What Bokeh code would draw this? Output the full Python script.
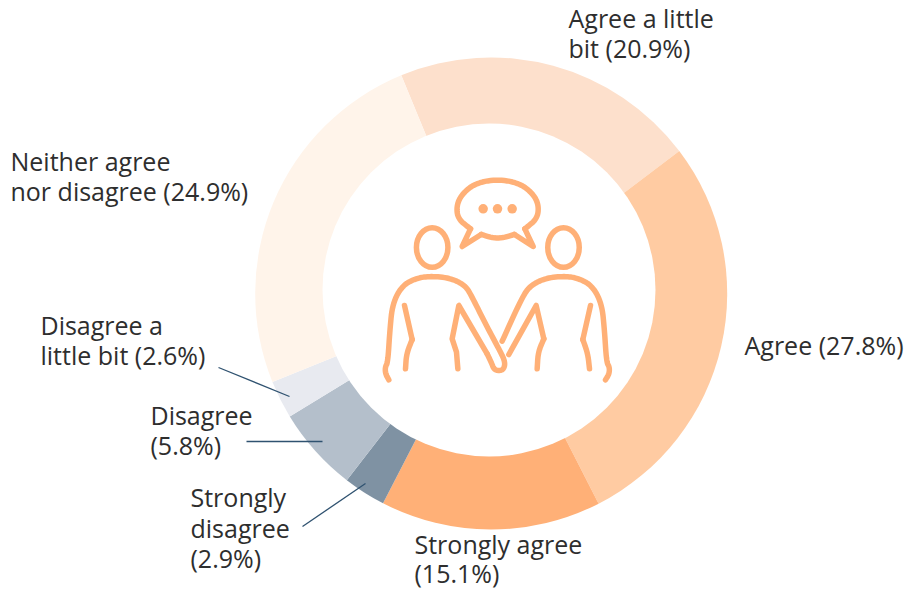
from bokeh.plotting import figure
from bokeh.embed import file_html
from bokeh.resources import INLINE
from bokeh.core.properties import value
import math

categories = ["Agree a little bit", "Agree", "Strongly agree", "Strongly disagree",
              "Disagree", "Disagree a little bit", "Neither agree nor disagree"]
shares = [20.9, 27.8, 15.1, 2.9, 5.8, 2.6, 24.9]
colors = ["#FDE0CC", "#FFCBA2", "#FFB077", "#7F92A3", "#B4BFCB", "#E8EAF0", "#FFF4EA"]

label_lines = ["Agree a little", "bit (20.9%)", "Agree (27.8%)", "Strongly agree", "(15.1%)",
               "Strongly", "disagree", "(2.9%)", "Disagree", "(5.8%)", "Disagree a",
               "little bit (2.6%)", "Neither agree", "nor disagree (24.9%)"]
label_x = [568, 568, 744, 414, 414, 190, 190, 190, 150, 150, 40, 40, 10, 10]
label_mid = [17, 47, 344, 543, 572, 496, 527, 557, 414, 444, 324, 354, 160, 190]

leaders = [((218, 367), (289, 396)), ((246, 441), (322, 441)), ((302, 526), (365, 483))]

CX, CY, R_OUT, START = 490.7, 293, 236, -22.4
HOLE_X, HOLE_Y, R_HOLE = 488.5, 289.5, 166.5
W, H = 912, 590
TEXT = "#2E2E2E"; LEAD = "#2F5270"; ICON = "#FFB077"; FONT = "Open Sans"; SIZE = "25px"

def Y(y):
    return 590 - y

p = figure(width=W, height=H, x_range=(0, W), y_range=(0, H), output_backend="svg",
           toolbar_location=None, min_border=0, outline_line_color=None)
p.axis.visible = False
p.grid.visible = False
p.background_fill_color = "#FFFFFF"

acc = 0.0
starts, ends = [], []
for s in shares:
    a0 = 90 - (START + acc * 3.6)
    acc += s
    a1 = 90 - (START + acc * 3.6)
    starts.append(math.radians(a1))
    ends.append(math.radians(a0))
p.wedge(x=[CX] * 7, y=[Y(CY)] * 7, radius=R_OUT,
        start_angle=starts, end_angle=ends, fill_color=colors, line_color=None)
p.circle(x=[HOLE_X], y=[Y(HOLE_Y)], radius=R_HOLE, fill_color="#FFFFFF", line_color=None)

p.segment(x0=[a[0] for a, b in leaders], y0=[Y(a[1]) for a, b in leaders],
          x1=[b[0] for a, b in leaders], y1=[Y(b[1]) for a, b in leaders],
          line_color=LEAD, line_width=1.3)

p.text(x=label_x, y=[Y(b) for b in label_mid], text=label_lines, text_font=value(FONT),
       text_font_size=value(SIZE), text_color=TEXT, text_baseline="middle", text_align="left")

def chaikin(pts, n=3):
    for _ in range(n):
        out = [pts[0]]
        for a, b in zip(pts, pts[1:]):
            out.append((0.75 * a[0] + 0.25 * b[0], 0.75 * a[1] + 0.25 * b[1]))
            out.append((0.25 * a[0] + 0.75 * b[0], 0.25 * a[1] + 0.75 * b[1]))
        out.append(pts[-1])
        pts = out
    return pts

smooth = [
    [(300,175),(262,145),(258,105),(275,70),(315,38),(381,26),(447,38),(488,70),(505,105),(500,145),(463,175)],
    [(432,192),(381,206),(332,192)],
    [(55,628),(45,610),(44,590),(52,575),(58,480),(66,400),(95,345),(140,322),(185,317),(240,323),(285,345),(305,380),(345,460),(385,535),(405,575),(398,600),(372,600),(362,575),(350,550)],
    [(705,628),(716,610),(717,590),(708,575),(702,480),(694,400),(665,345),(620,322),(579,317),(525,323),(480,345),(455,380),(395,512)],
    [(520,505),(503,545),(500,595)],
    [(125,507),(108,550),(105,595)],
    [(637,507),(652,550),(657,595)],
]
straight = [
    [(463,175),(488,228),(432,192)],
    [(332,192),(275,228),(300,175)],
    [(350,550),(265,405),(245,505),(258,545),(262,595)],
    [(415,552),(497,405),(520,505)],
    [(102,405),(125,507)],
    [(660,405),(637,507)],
]
strokes = [chaikin(s) for s in smooth] + straight
xs = [[370 + q[0] / 3 for q in s] for s in strokes]
ys = [[Y(170 + q[1] / 3) for q in s] for s in strokes]
p.multi_line(xs, ys, line_color=ICON, line_width=5.5, line_cap="round", line_join="round")

dot_z = [338, 381, 425]
p.scatter(x=[370 + d / 3 for d in dot_z], y=[Y(170 + 115 / 3)] * 3, size=9.5, marker="circle",
          fill_color=ICON, line_color=None)
p.ellipse(x=[370 + 185 / 3, 370 + 579 / 3], y=[Y(170 + 231 / 3)] * 2, width=31.5, height=39.5,
          fill_color=None, line_color=ICON, line_width=5.5)

open("out.html", "w").write(file_html(p, INLINE))
